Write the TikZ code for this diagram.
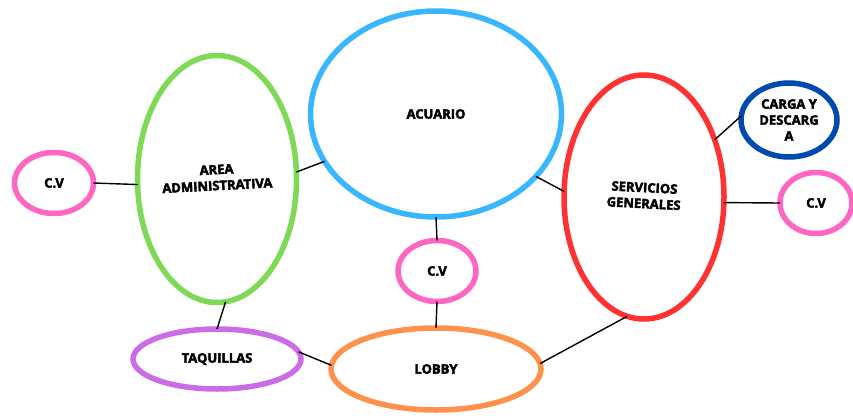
\documentclass[tikz,border=0pt]{standalone}
\usepackage{fontspec}
\setmainfont{Open Sans}[BoldFeatures={FakeBold=3}]
\usetikzlibrary{shapes.geometric}
\definecolor{cgreen}{HTML}{7ED957}
\definecolor{cblue}{HTML}{38B6FF}
\definecolor{cred}{HTML}{FF3131}
\definecolor{cdblue}{HTML}{004AAD}
\definecolor{cpink}{HTML}{FF66C4}
\definecolor{cpurple}{HTML}{CB6CE6}
\definecolor{corange}{HTML}{FF914D}
\tikzset{
  bubble/.style={ellipse, draw=#1, line width=5.5pt, inner sep=0pt, outer sep=0pt,
    font=\fontsize{13}{16}\selectfont\bfseries, align=center, text=black},
  link/.style={draw=black, line width=1.4pt},
}
\begin{document}
\begin{tikzpicture}[x=1pt,y=-1pt]
\useasboundingbox (0,0) rectangle (853,415);
\node[bubble=cpink, minimum width=79pt, minimum height=61pt] (cvl) at (54,183) {C.V};
\node[bubble=cgreen, minimum width=159pt, minimum height=247pt] (area) at (217,179) {\rotatebox{3}{\begin{tabular}{@{}c@{}}AREA\\ADMINISTRATIVA\end{tabular}}};
\node[bubble=cblue, minimum width=251pt, minimum height=206pt] (acu) at (436,114) {ACUARIO};
\node[bubble=cred, minimum width=160pt, minimum height=244pt] (serv) at (644,197) {\rotatebox{-3}{\begin{tabular}{@{}c@{}}SERVICIOS\\GENERALES\end{tabular}}};
\node[bubble=cdblue, minimum width=96pt, minimum height=74pt] (carga) at (789,120) {CARGA Y\\DESCARG\\A};
\node[bubble=cpink, minimum width=72pt, minimum height=61pt] (cvr) at (816,203) {C.V};
\node[bubble=cpink, minimum width=78pt, minimum height=61pt] (cvm) at (437,271) {C.V};
\node[bubble=cpurple, minimum width=168pt, minimum height=60pt] (taq) at (217,359) {TAQUILLAS};
\node[bubble=corange, minimum width=210pt, minimum height=82pt] (lobby) at (436,369) {LOBBY};
\draw[link] (cvl.east) -- (area.184);
\draw[link] (area.5) -- (acu.203);
\draw[link] (acu.south) -- (cvm.north);
\draw[link] (cvm.south) -- (lobby.north);
\draw[link] (acu.-32) -- (serv.176);
\draw[link] (serv.39) -- (carga.175);
\draw[link] (serv.-4) -- (cvr.west);
\draw[link] (area.-86) -- (taq.90);
\draw[link] (taq.5) -- (lobby.178);
\draw[link] (lobby.3) -- (serv.-98);
\end{tikzpicture}
\end{document}
